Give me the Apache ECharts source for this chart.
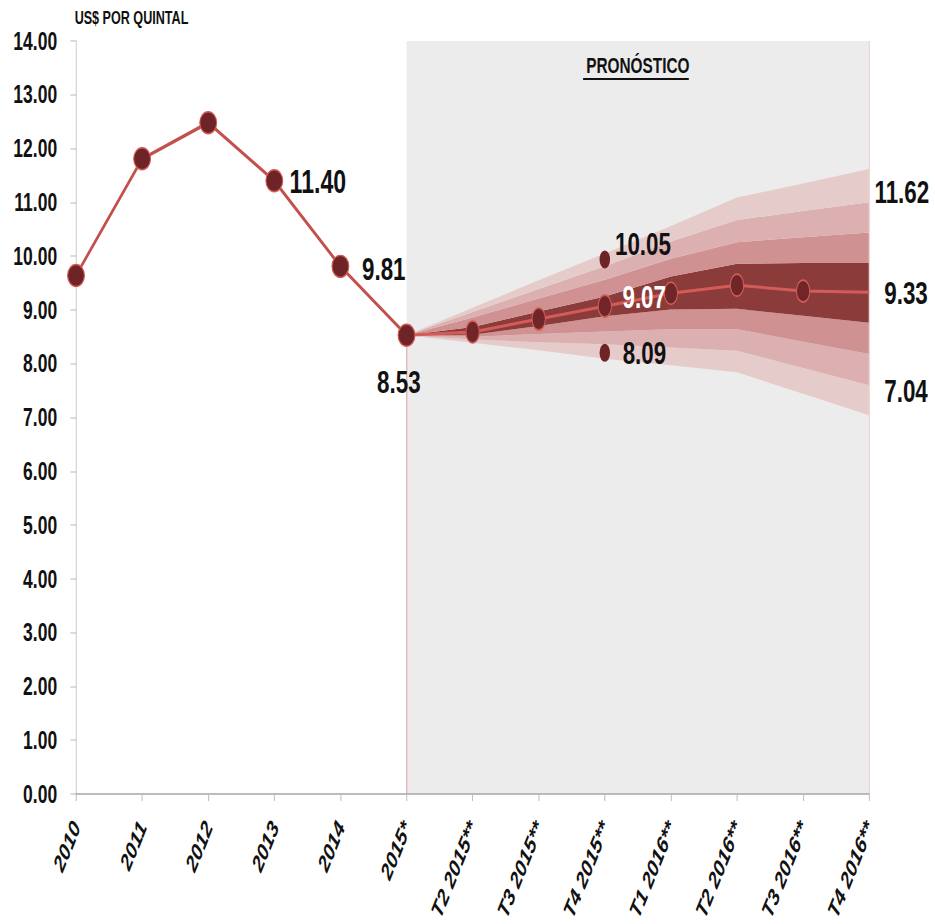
<!DOCTYPE html>
<html>
<head>
<meta charset="utf-8">
<script src="https://cdn.jsdelivr.net/npm/echarts@6/dist/echarts.min.js"></script>
<style>
html,body{margin:0;padding:0;background:#fff;overflow:hidden;width:935px;height:924px;}
#chart{width:1336px;height:924px;transform:scaleX(0.7);transform-origin:0 0;}
</style>
</head>
<body>
<div id="chart"></div>
<script>
const categories = ['2010','2011','2012','2013','2014','2015*','T2 2015**','T3 2015**','T4 2015**','T1 2016**','T2 2016**','T3 2016**','T4 2016**'];
const yTicks = [0,1,2,3,4,5,6,7,8,9,10,11,12,13,14];
const history = [9.64, 11.81, 12.48, 11.40, 9.81, 8.53];
// forecast values from 2015* to T4 2016**
const forecast = [8.53, 8.59, 8.83, 9.07, 9.31, 9.46, 9.35, 9.33];
const outerLow  = [8.53, 8.39, 8.25, 8.09, 7.97, 7.84, 7.44, 7.04];
const band2Low  = [8.53, 8.45, 8.40, 8.36, 8.30, 8.24, 7.92, 7.60];
const band3Low  = [8.53, 8.50, 8.55, 8.60, 8.64, 8.64, 8.41, 8.18];
const darkLow   = [8.53, 8.54, 8.70, 8.88, 9.01, 9.02, 8.89, 8.76];
const darkHigh  = [8.53, 8.68, 8.97, 9.25, 9.62, 9.86, 9.87, 9.87];
const band3High = [8.53, 8.86, 9.21, 9.56, 9.95, 10.26, 10.35, 10.44];
const band2High = [8.53, 8.96, 9.39, 9.81, 10.27, 10.67, 10.84, 11.00];
const outerHigh = [8.53, 9.04, 9.55, 10.05, 10.56, 11.09, 11.35, 11.62];
const rangeDots = [10.05, 8.09];            // at T4 2015**
const endLabels = [11.62, 9.33, 7.04];      // at T4 2016**

const FONT = "'Liberation Sans','Arimo',Arial,sans-serif";
const ELLIPSE = 'path://M50,0A50,50,0,1,1,50,100A50,50,0,1,1,50,0Z';
const histLen = history.length;
const last = categories.length - 1;
const pad = n => Array(n).fill('-');
const fc = arr => pad(histLen - 1).concat(arr);
const diff = (a, b) => fc(a.map((v, i) => +(v - b[i]).toFixed(2)));
const fmt2 = p => (Array.isArray(p.value) ? p.value[1] : p.value).toFixed(2);

const bandColors = ['#e6cbcb', '#dcb0b0', '#cf9191', '#8c3b3b'];

function bandSeries(name, data, color) {
  return {
    name, type: 'line', stack: 'fan', data, symbol: 'none', silent: true,
    lineStyle: { width: 0, opacity: 0 }, areaStyle: { color, opacity: 1 }, z: 3
  };
}

const labelBase = { fontFamily: FONT, fontWeight: 'bold', fontSize: 32, color: '#111', opacity: 1, formatter: fmt2 };

const histData = history.map((v, i) => {
  if (i === 3) return { value: v, label: { show: true, position: 'right', distance: 9, offset: [0, 1], ...labelBase, fontSize: 33 } };
  if (i === 4) return { value: v, label: { show: true, position: 'right', distance: 18, offset: [0, 3], ...labelBase } };
  if (i === 5) return { value: v, label: { show: true, position: 'inside', offset: [-11, 47], ...labelBase } };
  return v;
}).concat(pad(categories.length - histLen));

const fcData = fc(forecast).map((v, i) => {
  if (v === '-') return v;
  if (i === histLen - 1 || i === last) return { value: v, symbol: 'none' };
  if (i === 8) return { value: v, label: { show: true, position: 'right', distance: 15, offset: [0, -9], ...labelBase, color: '#fff' } };
  return v;
});

const chart = echarts.init(document.getElementById('chart'), null, { renderer: 'svg' });

chart.setOption({
  animation: false,
  grid: { left: 108.6, right: 94.3, top: 41, bottom: 127 },
  xAxis: {
    type: 'category', data: categories, boundaryGap: false,
    axisLine: { lineStyle: { color: '#a6a6a6', width: 1.5 } },
    axisTick: { show: true, length: 7, lineStyle: { color: '#bfbfbf', width: 1.5 } },
    axisLabel: {
      rotate: 60, margin: 29, interval: 0,
      fontFamily: FONT, fontWeight: 'bold', fontStyle: 'italic', fontSize: 24, color: '#111'
    },
    z: 10
  },
  yAxis: {
    type: 'value', min: yTicks[0], max: yTicks[yTicks.length - 1], interval: 1,
    splitLine: { show: false },
    axisLine: { show: true, lineStyle: { color: '#cfcfcf', width: 1.5 } },
    axisTick: { show: true, length: 8, lineStyle: { color: '#cfcfcf', width: 1.5 } },
    axisLabel: {
      margin: 27, fontFamily: FONT, fontWeight: 'bold', fontSize: 25, color: '#111',
      formatter: v => v.toFixed(2)
    },
    name: 'US$ POR QUINTAL', nameLocation: 'end', nameGap: 14,
    nameTextStyle: { fontFamily: FONT, fontWeight: 'bold', fontSize: 18, color: '#111', align: 'left', padding: [0, 0, 0, -2] }
  },
  graphic: [
    { type: 'line', shape: { x1: 833, y1: 79, x2: 984, y2: 79 }, style: { stroke: '#111', lineWidth: 2 }, z: 20 }
  ],
  series: [
    {
      name: 'bg', type: 'line', data: [], silent: true,
      markArea: {
        silent: true,
        itemStyle: { color: '#ececec' },
        label: {
          show: true, position: 'insideTop', distance: 13,
          formatter: 'PRONÓSTICO', fontFamily: FONT, fontWeight: 'bold', fontSize: 22, color: '#111'
        },
        data: [[{ xAxis: categories[histLen - 1], yAxis: 0 }, { xAxis: categories[last], yAxis: 14 }]]
      },
      markLine: {
        silent: true, symbol: 'none', label: { show: false },
        lineStyle: { color: '#e6b8b8', width: 2, type: 'solid' },
        data: [
          [{ coord: [categories[histLen - 1], 0] }, { coord: [categories[histLen - 1], history[histLen - 1]] }],
          [{ coord: [categories[last], 0], lineStyle: { color: '#f1d6d6' } }, { coord: [categories[last], 14] }]
        ]
      },
      z: 1
    },
    { name: 'base', type: 'line', stack: 'fan', data: fc(outerLow), symbol: 'none', silent: true, lineStyle: { width: 0, opacity: 0 }, z: 3 },
    bandSeries('o1', diff(band2Low, outerLow), bandColors[0]),
    bandSeries('b2', diff(band3Low, band2Low), bandColors[1]),
    bandSeries('b3', diff(darkLow, band3Low), bandColors[2]),
    bandSeries('dk', diff(darkHigh, darkLow), bandColors[3]),
    bandSeries('b3u', diff(band3High, darkHigh), bandColors[2]),
    bandSeries('b2u', diff(band2High, band3High), bandColors[1]),
    bandSeries('o1u', diff(outerHigh, band2High), bandColors[0]),
    {
      name: 'forecast', type: 'line', data: fcData,
      symbol: ELLIPSE, symbolSize: [19, 22],
      lineStyle: { color: '#d45c58', width: 3 },
      itemStyle: { color: '#702629', borderColor: '#cf5d59', borderWidth: 1.5 },
      z: 6
    },
    {
      name: 'history', type: 'line', data: histData,
      symbol: ELLIPSE, symbolSize: [24, 22],
      lineStyle: { color: '#c4504c', width: 3.5 },
      itemStyle: { color: '#6e2326', borderColor: '#d05a56', borderWidth: 1.5 },
      z: 7
    },
    {
      name: 'rangeDots', type: 'scatter', symbol: ELLIPSE, symbolSize: [15, 18],
      itemStyle: { color: '#6e2326', opacity: 1 },
      data: rangeDots.map((v, i) => ({
        value: [categories[8], v], symbolOffset: [0, i === 0 ? 6 : -6],
        label: { show: true, position: 'right', distance: i === 0 ? 7 : 18, offset: [0, i === 0 ? -15 : 0], ...labelBase }
      })),
      z: 8
    },
    {
      name: 'endLabels', type: 'scatter', symbol: 'circle', symbolSize: 1,
      itemStyle: { color: 'rgba(0,0,0,0)', opacity: 1 },
      data: endLabels.map((v, i) => ({
        value: [categories[last], v],
        label: { show: true, position: 'right', distance: [7, 21, 21][i], offset: [0, [23, 1, -24][i]], ...labelBase }
      })),
      z: 8
    }
  ]
});
</script>
</body>
</html>
